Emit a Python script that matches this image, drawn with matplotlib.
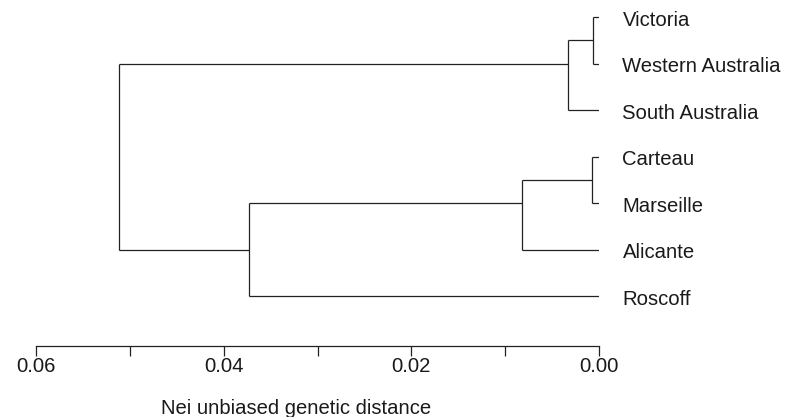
import matplotlib
matplotlib.use("Agg")
import matplotlib.pyplot as plt

plt.rcParams["font.family"] = ["Liberation Sans", "DejaVu Sans"]

# leaves, top to bottom
leaves = ["Victoria", "Western Australia", "South Australia",
          "Carteau", "Marseille", "Alicante", "Roscoff"]

# clusters: children and joining distance (Nei unbiased)
node_names = ["VW", "CM", "VWS", "CMA", "CMAR", "root"]
node_children = [("Victoria", "Western Australia"),
                 ("Carteau", "Marseille"),
                 ("VW", "South Australia"),
                 ("CM", "Alicante"),
                 ("CMA", "Roscoff"),
                 ("VWS", "CMAR")]
node_dist = [0.0006, 0.0007, 0.0033, 0.0082, 0.0373, 0.0512]
# row where each cluster's stem leaves it (as drawn in the original)
node_row = [0.5, 3.5, 1.0, 4.0, 5.0, 3.0]

tick_vals = [0.06, 0.05, 0.04, 0.03, 0.02, 0.01, 0.00]
tick_labels = ["0.06", "", "0.04", "", "0.02", "", "0.00"]

LINE = "#222222"
TXT = "#1a1a1a"
FS = 14.6

fig = plt.figure(figsize=(7.91, 4.17), dpi=100)
ax = fig.add_axes([36 / 791, 71 / 417, 563 / 791, 346 / 417])

row = {name: i for i, name in enumerate(leaves)}
dist = {name: 0.0 for name in leaves}
for n, r, d in zip(node_names, node_row, node_dist):
    row[n] = r
    dist[n] = d

for n, (a, b), d in zip(node_names, node_children, node_dist):
    ax.plot([d, d], [row[a], row[b]], color=LINE, lw=0.9, solid_capstyle="butt")
    for c in (a, b):
        ax.plot([dist[c], d], [row[c], row[c]], color=LINE, lw=0.9,
                solid_capstyle="butt")

for name in leaves:
    ax.text(-0.0025, row[name] + 0.07, name, ha="left", va="center",
            fontsize=FS, color=TXT)

ax.set_xlim(0.06, 0.0)
ax.set_ylim((346 - 17) / 46.5, -17 / 46.5)

for s in ("top", "left", "right"):
    ax.spines[s].set_visible(False)
ax.spines["bottom"].set_color(LINE)
ax.spines["bottom"].set_linewidth(0.9)
ax.set_yticks([])
ax.set_xticks(tick_vals)
ax.set_xticklabels(tick_labels)
ax.tick_params(axis="x", direction="out", length=7.5, width=0.9,
               color=LINE, labelsize=FS, labelcolor=TXT, pad=0.5)

fig.text(296 / 791, 1 - 408 / 417, "Nei unbiased genetic distance",
         ha="center", va="center", fontsize=FS, color=TXT)

fig.savefig("out.png", dpi=100, facecolor="white")
